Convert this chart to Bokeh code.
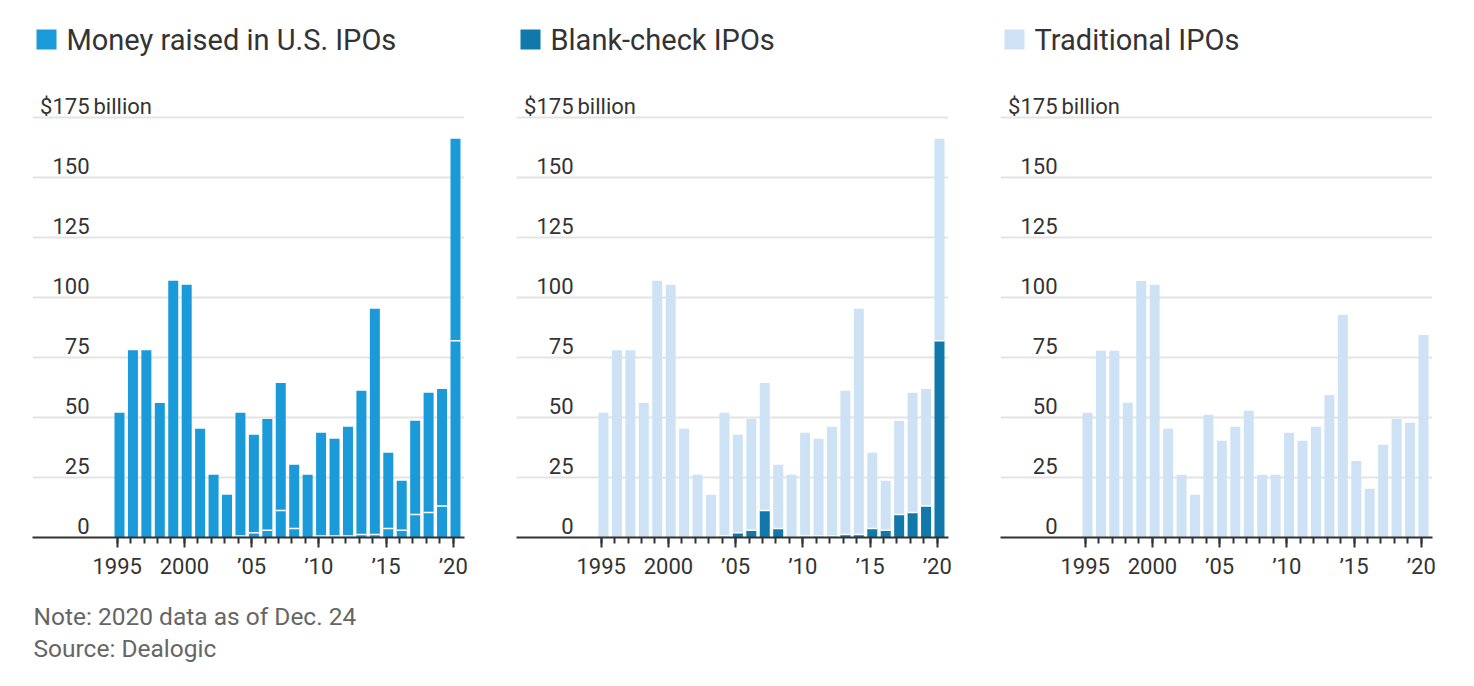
from bokeh.plotting import figure
from bokeh.layouts import row
from bokeh.models import Range1d, FixedTicker, Title
from bokeh.core.properties import value
from bokeh.embed import file_html
from bokeh.resources import INLINE

# ---- data (US$ billions) ----
years = list(range(1995, 2021))
total = [52, 78, 78, 56, 107, 105.3, 45.3, 26.1, 17.8, 52, 42.8, 49.4, 64.4,
         30.3, 26.1, 43.6, 41.1, 46.1, 61.1, 95.3, 35.3, 23.6, 48.6, 60.3, 61.9, 166.1]
blank_check = [0, 0, 0, 0, 0, 0, 0, 0, 0, 0.6, 2.0, 3.0, 11.3, 3.7, 0, 0.6, 0.6,
               0.6, 1.2, 1.3, 3.7, 3.0, 9.6, 10.4, 13.1, 82]
traditional = [52, 77.8, 77.8, 56.1, 106.9, 105.3, 45.3, 26.1, 17.8, 51.1, 40.3,
               46.1, 52.8, 26.1, 26.1, 43.6, 40.3, 46.1, 59.4, 92.8, 31.9, 20.3,
               38.6, 49.4, 47.8, 84.4]
y_ticks = [0, 25, 50, 75, 100, 125, 150]
y_top_tick = 175
x_major = [1995, 2000, 2005, 2010, 2015, 2020]
x_labels = ["1995", "2000", "\u201905", "\u201910", "\u201915", "\u201920"]
titles = ["Money raised in U.S. IPOs", "Blank-check IPOs", "Traditional IPOs"]
note = "Note: 2020 data as of Dec. 24"
source = "Source: Dealogic"

BLUE = "#1a9ad9"
DARK = "#1078ab"
LIGHT = "#cde3f5"
TXT = "#333333"
GRID = "#e4e4e4"
FONT = "Roboto"
NUMFONT = "Roboto"
NUMSIZE = "22px"

FRAME_W, FRAME_H = 432, 529
PX_PER_YEAR = 13.44
PX_PER_UNIT = 2.4
X0 = 1995 - 84.7 / PX_PER_YEAR
X1 = X0 + FRAME_W / PX_PER_YEAR
Y1 = FRAME_H / PX_PER_UNIT
BAR_SHIFT = 0.17
BAR_W = 0.744


def make_panel(kind, title, square_color, left=24, with_note=False):
    p = figure(frame_width=FRAME_W, frame_height=FRAME_H,
               min_border_left=left, min_border_right=28, min_border_top=8,
               min_border_bottom=141,
               x_range=Range1d(X0, X1), y_range=Range1d(0, Y1),
               toolbar_location=None, output_backend="svg")
    p.outline_line_color = None
    p.background_fill_color = "white"
    p.border_fill_color = "white"
    p.yaxis.visible = False
    p.xgrid.visible = False
    p.ygrid.ticker = FixedTicker(ticks=y_ticks[1:] + [y_top_tick])
    p.ygrid.grid_line_color = GRID
    p.ygrid.grid_line_width = 2

    xs = [y + BAR_SHIFT for y in years]
    sep_x0 = [x - BAR_W / 2 for x, b in zip(xs, blank_check) if b > 0]
    sep_x1 = [x + BAR_W / 2 for x, b in zip(xs, blank_check) if b > 0]
    sep_y = [b for b in blank_check if b > 0]

    if kind == "total":
        p.vbar(x=xs, top=total, width=BAR_W, fill_color=BLUE, line_color=None)
        p.segment(x0=sep_x0, x1=sep_x1, y0=sep_y, y1=sep_y,
                  line_color="white", line_width=1.5)
    elif kind == "blank":
        p.vbar(x=xs, bottom=blank_check, top=total, width=BAR_W,
               fill_color=LIGHT, line_color=None)
        p.vbar(x=xs, top=blank_check, width=BAR_W, fill_color=DARK, line_color=None)
        p.segment(x0=sep_x0, x1=sep_x1, y0=sep_y, y1=sep_y,
                  line_color="white", line_width=1.5)
    else:
        p.vbar(x=xs, top=traditional, width=BAR_W, fill_color=LIGHT, line_color=None)

    # y labels inside the plot, above grid lines
    p.text(x=[X0] * len(y_ticks), y=y_ticks, text=[str(t) for t in y_ticks],
           x_offset=57, y_offset=-12, text_align="right", text_baseline="middle",
           text_font=value(NUMFONT), text_font_size=NUMSIZE, text_color=TXT)
    p.text(x=[X0], y=[y_top_tick], text=["$" + str(y_top_tick)],
           x_offset=57, y_offset=-11, text_align="right", text_baseline="middle",
           text_font=value(NUMFONT), text_font_size=NUMSIZE, text_color=TXT)
    p.text(x=[X0], y=[y_top_tick], text=["billion"],
           x_offset=61, y_offset=-11, text_align="left", text_baseline="middle",
           text_font=value(NUMFONT), text_font_size=NUMSIZE, text_color=TXT)

    # legend-like title
    p.scatter(x=[X0 + 14 / PX_PER_YEAR], y=[Y1 - 31 / PX_PER_UNIT], marker="square",
              size=20, fill_color=square_color, line_color=None)
    p.text(x=[X0], y=[Y1], text=[title], x_offset=34, y_offset=31,
           text_align="left", text_baseline="middle",
           text_font=value(FONT), text_font_size="29px", text_color=TXT)

    ax = p.xaxis[0]
    ax.ticker = FixedTicker(ticks=x_major, minor_ticks=years)
    ax.major_label_overrides = {k: v for k, v in zip(x_major, x_labels)}
    ax.axis_line_color = TXT
    ax.axis_line_width = 2
    ax.major_tick_line_color = TXT
    ax.minor_tick_line_color = TXT
    ax.major_tick_line_width = 2
    ax.minor_tick_line_width = 2
    ax.major_tick_in = 0
    ax.major_tick_out = 10
    ax.minor_tick_in = 0
    ax.minor_tick_out = 6
    ax.major_label_standoff = 6
    ax.major_label_text_font = NUMFONT
    ax.major_label_text_font_size = NUMSIZE
    ax.major_label_text_color = TXT

    if with_note:
        p.add_layout(Title(text=note + "\n" + source, align="left", text_font=FONT,
                           text_font_size="24.5px", text_font_style="normal",
                           text_line_height=1.1, text_color="#666666",
                           offset=1, standoff=37), "below")
    return p


p1 = make_panel("total", titles[0], BLUE, left=32, with_note=True)
p2 = make_panel("blank", titles[1], DARK)
p3 = make_panel("trad", titles[2], LIGHT)
layout = row(p1, p2, p3)

open("out.html", "w").write(file_html(layout, INLINE))
